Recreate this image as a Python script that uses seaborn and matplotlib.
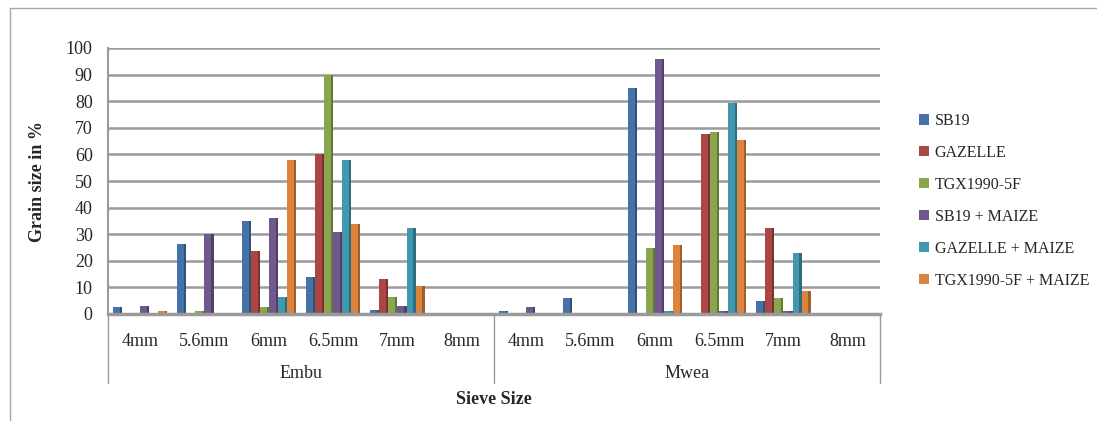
import pandas as pd
import matplotlib.pyplot as plt
import seaborn as sns
from matplotlib.lines import Line2D
from matplotlib.patches import Rectangle
from matplotlib.transforms import blended_transform_factory
import matplotlib.colors as mcolors

# Chart data
sites = ["Embu", "Mwea"]
sieves = ["4mm", "5.6mm", "6mm", "6.5mm", "7mm", "8mm"]
varieties = ["SB19", "GAZELLE", "TGX1990-5F", "SB19 + MAIZE", "GAZELLE + MAIZE", "TGX1990-5F + MAIZE"]

# one value per sieve, Embu sieves first then Mwea sieves
sb19 = [2.5, 26.5, 35, 14, 1.5, 0, 1, 6, 85, 0.3, 5, 0]
gazelle = [0, 0, 23.5, 60, 13, 0, 0, 0, 0, 67.5, 32.5, 0.5]
tgx = [0, 1, 2.5, 90, 6.5, 0, 0, 0, 25, 68.5, 6, 0]
sb19_maize = [3, 30, 36, 31, 3, 0, 2.8, 0, 96, 1, 1, 0]
gazelle_maize = [0.3, 0, 6.5, 58, 32.5, 0, 0, 0, 1, 79.5, 23, 0]
tgx_maize = [1, 0, 58, 34, 10.5, 0, 0, 0, 26, 65.5, 8.5, 0]

colors = ["#4572A7", "#AA4643", "#89A54E", "#71588F", "#4198AF", "#DB843D"]

# Build long table for seaborn
keys = [f"{s}|{v}" for s in sites for v in sieves]
series = [sb19, gazelle, tgx, sb19_maize, gazelle_maize, tgx_maize]
rows = []
for name, vals in zip(varieties, series):
    for k, v in zip(keys, vals):
        rows.append({"key": k, "variety": name, "value": v})
df = pd.DataFrame(rows)

sns.set_style("white")
plt.rcParams["font.family"] = ["Liberation Serif", "DejaVu Serif"]

fig = plt.figure(figsize=(10.97, 4.21), dpi=100)
ax = fig.add_axes([108 / 1097, 1 - 314 / 421, (880 - 108) / 1097, (314 - 48) / 421])

sns.barplot(data=df, x="key", y="value", hue="variety", order=keys, hue_order=varieties,
            palette=colors, saturation=1, width=0.84, linewidth=0, edgecolor="none",
            errorbar=None, ax=ax)

# darker side face to mimic the 3D look
for p in list(ax.patches):
    h = p.get_height()
    if h <= 0:
        continue
    dark = [c * 0.72 for c in mcolors.to_rgb(p.get_facecolor())]
    w = p.get_width()
    ax.add_patch(Rectangle((p.get_x() + w * 0.75, 0), w * 0.25, h, facecolor=dark,
                           edgecolor="none", zorder=p.get_zorder() + 0.1))

ax.set_ylim(0, 100)
ax.set_xlim(-0.5, len(keys) - 0.5)
ax.set_yticks(range(0, 101, 10))
ax.yaxis.grid(True, color="#9a9a9a", linewidth=1.8)
ax.set_axisbelow(True)
for side in ["top", "right"]:
    ax.spines[side].set_visible(False)
ax.spines["left"].set_color("#9a9a9a")
ax.spines["left"].set_linewidth(1.5)
ax.spines["bottom"].set_color("#9a9a9a")
ax.spines["bottom"].set_linewidth(2.5)
ax.tick_params(axis="y", direction="out", length=5, color="#9a9a9a", labelsize=13, pad=6)
ax.tick_params(axis="x", length=0, labelsize=13, pad=14)
ax.set_xticks(range(len(keys)))
ax.set_xticklabels([k.split("|")[1] for k in keys])
ax.set_xlabel("")
ax.set_ylabel("Grain size in %", fontsize=13, fontweight="bold", labelpad=14)

# second level of the category axis
trans = blended_transform_factory(ax.transData, ax.transAxes)
n = len(sieves)
for i in range(len(sites) + 1):
    xb = i * n - 0.5
    ax.add_line(Line2D([xb, xb], [0, -0.26], transform=trans, color="#9a9a9a",
                       linewidth=1, clip_on=False))
for i, s in enumerate(sites):
    ax.text(i * n + (n - 1) / 2, -0.225, s, transform=trans, ha="center", va="center",
            fontsize=13)
ax.text(0.5, -0.32, "Sieve Size", transform=ax.transAxes, ha="center", va="center",
        fontsize=13, fontweight="bold")

handles, labels = ax.get_legend_handles_labels()
ax.get_legend().remove()
fig.legend(handles, labels, loc="center left", bbox_to_anchor=(905 / 1097, 1 - 201 / 421),
           frameon=False, fontsize=11.5, handlelength=0.6, handleheight=0.6,
           handletextpad=0.35, labelspacing=1.0)

# outer chart frame
fig.add_artist(Line2D([10 / 1097, 1], [1 - 8 / 421, 1 - 8 / 421], color="#a6a6a6", linewidth=1))
fig.add_artist(Line2D([10 / 1097, 10 / 1097], [0, 1 - 8 / 421], color="#a6a6a6", linewidth=1))

fig.savefig("out.png", dpi=100)
